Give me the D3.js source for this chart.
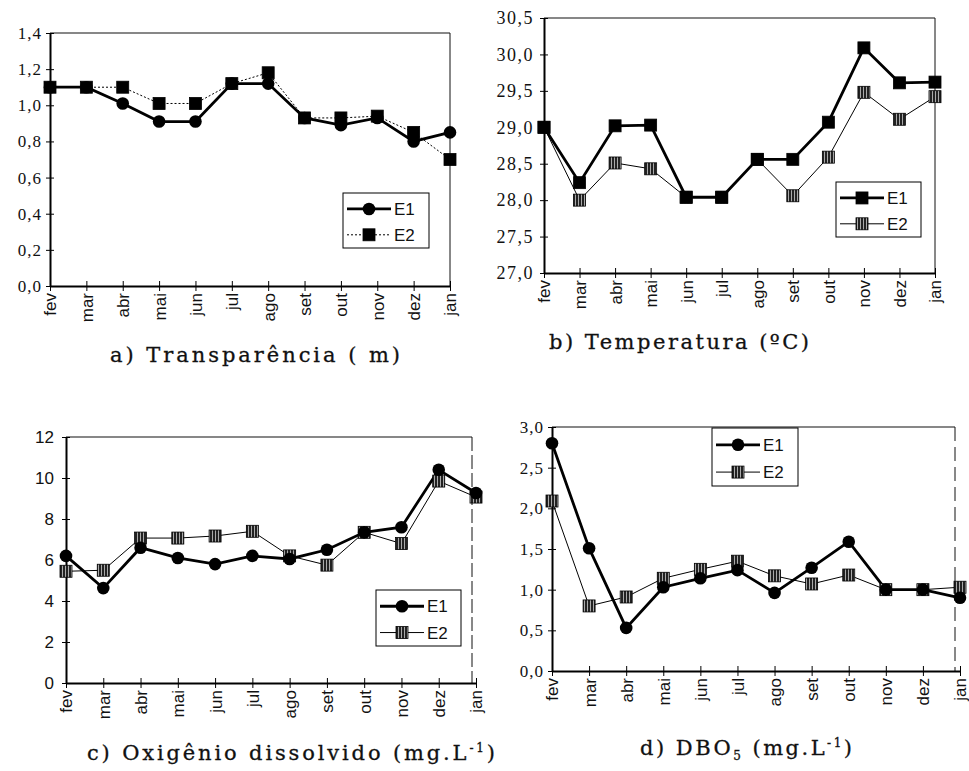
<!DOCTYPE html>
<html><head><meta charset="utf-8">
<script src="https://cdn.jsdelivr.net/npm/d3@7"></script>
<style>body{margin:0;background:#fff}svg{display:block}</style>
</head><body>
<svg id="chart" width="969" height="771"></svg>
<script>
const months = ["fev","mar","abr","mai","jun","jul","ago","set","out","nov","dez","jan"];
const seriesNames = ["E1","E2"];
// a) Transparência (m)
const transpE1 = [1.10,1.10,1.01,0.91,0.91,1.12,1.12,0.93,0.89,0.93,0.80,0.85];
const transpE2 = [1.10,1.10,1.10,1.01,1.01,1.12,1.18,0.93,0.93,0.94,0.85,0.70];
const transpTicks = [0,0.2,0.4,0.6,0.8,1.0,1.2,1.4];
// b) Temperatura (ºC)
const tempE1 = [29.0,28.24,29.02,29.03,28.04,28.04,28.56,28.56,29.07,30.09,29.61,29.62];
const tempE2 = [29.0,28.0,28.51,28.43,28.04,28.04,28.56,28.06,28.59,29.48,29.11,29.42];
const tempTicks = [27.0,27.5,28.0,28.5,29.0,29.5,30.0,30.5];
// c) Oxigênio dissolvido (mg/L)
const odE1 = [6.2,4.63,6.6,6.1,5.8,6.2,6.05,6.5,7.35,7.6,10.4,9.27];
const odE2 = [5.45,5.5,7.07,7.07,7.17,7.4,6.2,5.75,7.35,6.8,9.85,9.07];
const odTicks = [0,2,4,6,8,10,12];
// d) DBO5 (mg/L)
const dboE1 = [2.80,1.51,0.53,1.03,1.14,1.24,0.96,1.27,1.59,1.0,1.0,0.9];
const dboE2 = [2.09,0.80,0.91,1.14,1.25,1.35,1.17,1.07,1.18,1.0,1.0,1.03];
const dboTicks = [0,0.5,1.0,1.5,2.0,2.5,3.0];

const svg = d3.select("#chart");
const defs = svg.append("defs");
const pat = defs.append("pattern").attr("id","hatch").attr("patternUnits","userSpaceOnUse")
  .attr("width",3).attr("height",3);
pat.append("rect").attr("width",3).attr("height",3).attr("fill","#222");
pat.append("rect").attr("x",2).attr("width",1).attr("height",3).attr("fill","#aaa");

const commaFmt = d => d3.format(".1f")(d).replace(".",",");

function panel(cfg){
  const g = svg.append("g");
  const x = d3.scalePoint().domain(months).range([cfg.x0,cfg.x1]);
  const y = d3.scaleLinear().domain(cfg.domain).range([cfg.yBot,cfg.yTop]);
  // frame top and right
  g.append("line").attr("x1",cfg.x0).attr("x2",cfg.frameRight).attr("y1",cfg.yTop).attr("y2",cfg.yTop)
    .attr("stroke","#111").attr("stroke-width",1.2);
  g.append("line").attr("x1",cfg.frameRight).attr("x2",cfg.frameRight).attr("y1",cfg.yTop).attr("y2",cfg.yBot)
    .attr("stroke","#111").attr("stroke-width",1).attr("stroke-dasharray",cfg.rightDash||null);
  // y axis
  const ya = d3.axisLeft(y).tickValues(cfg.ticks).tickFormat(cfg.fmt).tickSize(0).tickPadding(cfg.yPad||8);
  const yg = g.append("g").attr("transform",`translate(${cfg.x0},0)`).call(ya);
  yg.select(".domain").attr("stroke","#000").attr("stroke-width",2);
  yg.selectAll(".tick text").attr("font-family",cfg.yFont).attr("font-size",cfg.yFontSize)
    .attr("letter-spacing",cfg.yLS||"0px").attr("fill","#111");
  yg.selectAll(".tick").append("line").attr("x1",-4).attr("x2",4).attr("stroke","#000").attr("stroke-width",1);
  // x axis
  const xa = d3.axisBottom(x).tickSize(0).tickPadding(0);
  const xg = g.append("g").attr("transform",`translate(0,${cfg.yBot})`).call(xa);
  xg.select(".domain").attr("stroke","#000").attr("stroke-width",2);
  xg.selectAll(".tick").append("line").attr("y1",-5).attr("y2",5).attr("stroke","#000").attr("stroke-width",1);
  xg.selectAll(".tick text").attr("font-family","Liberation Sans, Arial, sans-serif").attr("font-size",17)
    .attr("fill","#111").attr("text-anchor","end").attr("dy","0.35em")
    .attr("transform","translate(0,7) rotate(-90)");
  // series
  const line = d3.line().x((d,i)=>x(months[i])).y(d=>y(d));
  const ser = [
    {vals:cfg.e1, w:2.8, dash:null, marker:cfg.m1, fill:"#000"},
    {vals:cfg.e2, w:1, dash:cfg.dash2, marker:cfg.m2, fill:cfg.fill2}
  ];
  [1,0].forEach(k=>{
    const s = ser[k];
    g.append("path").attr("d",line(s.vals)).attr("fill","none").attr("stroke","#000")
      .attr("stroke-width",s.w).attr("stroke-dasharray",s.dash);
  });
  function marker(sel, type, fill, cx, cy){
    if(type==="circle") sel.append("circle").attr("cx",cx).attr("cy",cy).attr("r",6.3).attr("fill","#000");
    else sel.append("rect").attr("x",cx-6).attr("y",cy-6).attr("width",12).attr("height",12)
      .attr("fill",fill).attr("stroke","#000").attr("stroke-width",0.8);
  }
  [1,0].forEach(k=>{
    const s = ser[k];
    s.vals.forEach((v,i)=>marker(g, s.marker, s.fill, x(months[i]), y(v)));
  });
  // legend
  const L = cfg.legend;
  g.append("rect").attr("x",L.x).attr("y",L.y).attr("width",L.w).attr("height",L.h)
    .attr("fill","#fff").attr("stroke","#000").attr("stroke-width",1);
  ser.forEach((s,k)=>{
    const ry = L.y + L.h*(k===0?0.29:0.76);
    g.append("line").attr("x1",L.x+4).attr("x2",L.x+48).attr("y1",ry).attr("y2",ry)
      .attr("stroke","#000").attr("stroke-width",s.w).attr("stroke-dasharray",s.dash);
    marker(g, s.marker, s.fill, L.x+26, ry);
    g.append("text").attr("x",L.x+51).attr("y",ry).attr("dy","0.36em")
      .attr("font-family","Liberation Sans, Arial, sans-serif").attr("font-size",17).attr("fill","#111")
      .text(seriesNames[k]);
  });
  // title
  const t = svg.append("text").attr("x",cfg.tx).attr("y",cfg.ty)
    .attr("font-family","DejaVu Serif, serif").attr("font-size",21).attr("fill","#111")
    .attr("stroke","#111").attr("stroke-width",0.3)
    .attr("textLength",cfg.tw).attr("lengthAdjust","spacing");
  cfg.title(t);
}

panel({x0:50,x1:450,yTop:33,yBot:286,frameRight:450,domain:[0,1.4],ticks:transpTicks,fmt:commaFmt,
  yFont:"Liberation Serif, serif",yFontSize:17,yLS:"1px",e1:transpE1,e2:transpE2,m1:"circle",m2:"square",fill2:"#000",
  dash2:"2,2",legend:{x:343,y:193,w:86,h:55},tx:110,ty:362,tw:290,
  title:t=>t.text("a) Transparência ( m)")});
panel({x0:544,x1:935,yTop:18,yBot:273,frameRight:935,domain:[27,30.5],ticks:tempTicks,fmt:commaFmt,
  yFont:"Liberation Serif, serif",yFontSize:18,yLS:"1.5px",yPad:10,e1:tempE1,e2:tempE2,m1:"square",m2:"square",fill2:"url(#hatch)",
  dash2:null,legend:{x:836,y:182,w:85,h:55},tx:549,ty:349,tw:260,
  title:t=>t.text("b) Temperatura (ºC)")});
panel({x0:66,x1:476,yTop:437,yBot:683,frameRight:472,domain:[0,12],ticks:odTicks,fmt:d3.format("d"),
  yFont:"Liberation Sans, Arial, sans-serif",yFontSize:17,yPad:12,e1:odE1,e2:odE2,m1:"circle",m2:"square",fill2:"url(#hatch)",
  dash2:null,legend:{x:376,y:590,w:85,h:56},rightDash:"14,4",tx:87,ty:760,tw:408,
  title:t=>{t.append("tspan").text("c) Oxigênio dissolvido (mg.L");
    t.append("tspan").attr("font-size",12).attr("dy",-8).text("-1");
    t.append("tspan").attr("dy",8).text(")");}});
panel({x0:552,x1:960,yTop:427,yBot:671,frameRight:955,domain:[0,3],ticks:dboTicks,fmt:commaFmt,
  yFont:"Liberation Serif, serif",yFontSize:17,yLS:"1px",e1:dboE1,e2:dboE2,m1:"circle",m2:"square",fill2:"url(#hatch)",
  dash2:null,legend:{x:712,y:428,w:86,h:58},rightDash:"14,6",tx:640,ty:755,tw:212,
  title:t=>{t.append("tspan").text("d) DBO");
    t.append("tspan").attr("font-size",12).attr("dy",5).text("5");
    t.append("tspan").attr("dy",-5).text(" (mg.L");
    t.append("tspan").attr("font-size",12).attr("dy",-8).text("-1");
    t.append("tspan").attr("dy",8).text(")");}});
</script>
</body></html>
